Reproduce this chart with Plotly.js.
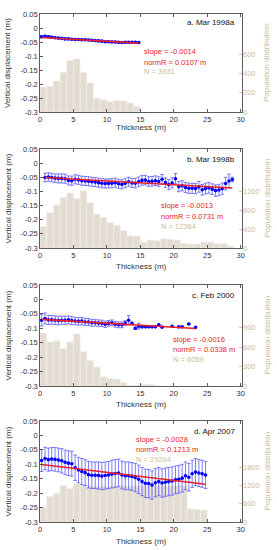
<!DOCTYPE html>
<html><head><meta charset="utf-8">
<script src="https://cdn.plot.ly/plotly-3.0.1.min.js"></script>
<style>html,body{margin:0;padding:0;background:#fff}#chart{width:277px;height:550px}</style>
</head><body><div id="chart"></div><script>
// ---------- text ----------
const panelLabels = ["a. Mar 1998a", "b. Mar 1998b", "c. Feb 2000", "d. Apr 2007"];
const slopeText = ["slope = -0.0014", "slope = -0.0013", "slope = -0.0016", "slope = -0.0028"];
const normRText = ["normR = 0.0107 m", "normR = 0.0731 m", "normR = 0.0338 m", "normR = 0.1213 m"];
const nText = ["N = 3931", "N = 12364", "N = 6059", "N = 29204"];
const xTickVals = [0, 5, 10, 15, 20, 25, 30];
const yTickVals = [-0.3, -0.25, -0.2, -0.15, -0.1, -0.05, 0, 0.05];
const yTickText = ["-0.3", "-0.25", "-0.2", "-0.15", "-0.1", "-0.05", "0", "0.05"];
const popTickVals = [[0, 200, 400, 600], [0, 400, 800, 1200], [0, 300, 600, 900], [0, 600, 1200, 1800]];
const popRanges = [[0, 1020], [0, 2100], [0, 1560], [0, 3330]];

// ---------- panel a ----------
const xA = [0.25,0.75,1.25,1.75,2.25,2.75,3.25,3.75,4.25,4.75,5.25,5.75,6.25,6.75,7.25,7.75,8.25,8.75,9.25,9.75,10.25,10.75,11.25,11.75,12.25,12.75,13.25,13.75,14.25,14.75];
const yA = [-0.031,-0.030,-0.031,-0.033,-0.035,-0.036,-0.037,-0.039,-0.039,-0.040,-0.041,-0.041,-0.042,-0.042,-0.043,-0.044,-0.045,-0.046,-0.047,-0.049,-0.049,-0.050,-0.050,-0.051,-0.052,-0.051,-0.051,-0.051,-0.051,-0.052];
const eA = [0.004,0.004,0.004,0.004,0.003,0.003,0.003,0.003,0.003,0.003,0.003,0.003,0.003,0.003,0.003,0.003,0.003,0.003,0.003,0.003,0.003,0.003,0.003,0.003,0.003,0.003,0.003,0.003,0.003,0.003];
const fitXA = [0.25, 14.75];
const fitYA = [-0.034, -0.054];
const binXA = [0.5,1.5,2.5,3.5,4.5,5.5,6.5,7.5,8.5,9.5,10.5,11.5,12.5,13.5,14.5];
const binA = [260,270,323,413,538,552,413,302,142,128,108,121,115,94,59];

// ---------- panel b ----------
const xB = [0.75,1.25,1.75,2.25,2.75,3.25,3.75,4.25,4.75,5.25,5.75,6.25,6.75,7.25,7.75,8.25,8.75,9.25,9.75,10.25,10.75,11.25,11.75,12.25,12.75,13.25,13.75,14.25,14.75,15.25,15.75,16.25,16.75,17.25,17.75,18.25,18.75,19.25,19.75,20.25,20.75,21.25,21.75,22.25,22.75,23.25,23.75,24.25,24.75,25.25,25.75,26.25,26.75,27.25,27.75,28.25,28.75];
const yB = [-0.051,-0.049,-0.051,-0.053,-0.054,-0.054,-0.055,-0.061,-0.062,-0.057,-0.059,-0.062,-0.063,-0.064,-0.066,-0.067,-0.069,-0.071,-0.072,-0.072,-0.071,-0.069,-0.073,-0.075,-0.071,-0.066,-0.070,-0.071,-0.066,-0.061,-0.060,-0.065,-0.064,-0.062,-0.065,-0.057,-0.069,-0.076,-0.070,-0.055,-0.083,-0.080,-0.086,-0.089,-0.089,-0.090,-0.084,-0.094,-0.090,-0.087,-0.092,-0.097,-0.095,-0.090,-0.072,-0.063,-0.058];
const eB = [0.015,0.015,0.015,0.015,0.016,0.016,0.016,0.016,0.016,0.016,0.016,0.016,0.016,0.016,0.016,0.016,0.016,0.016,0.016,0.016,0.016,0.016,0.016,0.016,0.016,0.016,0.016,0.017,0.017,0.017,0.017,0.017,0.017,0.017,0.017,0.017,0.017,0.018,0.018,0.018,0.018,0.018,0.018,0.018,0.018,0.018,0.019,0.019,0.019,0.019,0.019,0.020,0.020,0.020,0.022,0.024,0.008];
const fitXB = [0.75, 28.75];
const fitYB = [-0.051, -0.088];
const binXB = [0.5,1.5,2.5,3.5,4.5,5.5,6.5,7.5,8.5,9.5,10.5,11.5,12.5,13.5,14.5,15.5,16.5,17.5,18.5,19.5,20.5,21.5,22.5,23.5,24.5,25.5,26.5,27.5,28.5];
const binB = [459,748,915,1070,1165,1050,1214,958,720,645,535,480,372,261,254,127,169,155,198,184,169,99,85,85,127,127,92,99,42];

// ---------- panel c ----------
const xC = [0.25,0.75,1.25,1.75,2.25,2.75,3.25,3.75,4.25,4.75,5.25,5.75,6.25,6.75,7.25,7.75,8.25,8.75,9.25,9.75,10.25,10.75,11.25,11.75,12.25,12.75,13.25,13.75,14.25,14.75,15.25,15.75,16.25,16.75,17.25,17.75,18.25,19.75,20.75,21.25,22.25,23.25];
const yC = [-0.072,-0.066,-0.071,-0.071,-0.072,-0.073,-0.072,-0.072,-0.071,-0.073,-0.075,-0.076,-0.075,-0.078,-0.078,-0.081,-0.081,-0.082,-0.083,-0.086,-0.083,-0.081,-0.086,-0.088,-0.088,-0.082,-0.072,-0.083,-0.100,-0.093,-0.095,-0.095,-0.095,-0.095,-0.095,-0.088,-0.096,-0.093,-0.095,-0.095,-0.085,-0.097];
const eC = [0.020,0.019,0.016,0.015,0.015,0.015,0.014,0.014,0.014,0.014,0.013,0.013,0.013,0.012,0.012,0.012,0.011,0.011,0.011,0.011,0.010,0.010,0.010,0.010,0.010,0.008,0.016,0.004,0.004,0.010,0.003,0,0,0,0,0,0,0,0,0,0,0];
const fitXC = [0.25, 23.25];
const fitYC = [-0.069, -0.101];
const binXC = [0.5,1.5,2.5,3.5,4.5,5.5,6.5,7.5,8.5,9.5,10.5,11.5,12.5,13.5,14.5,15.5,16.5,17.5];
const binC = [818,680,697,579,677,805,532,396,293,141,118,105,56,10,15,26,26,10];

// ---------- panel d ----------
const xD = [0.25,0.75,1.25,1.75,2.25,2.75,3.25,3.75,4.25,4.75,5.25,5.75,6.25,6.75,7.25,7.75,8.25,8.75,9.25,9.75,10.25,10.75,11.25,11.75,12.25,12.75,13.25,13.75,14.25,14.75,15.25,15.75,16.25,16.75,17.25,17.75,18.25,18.75,19.25,19.75,20.25,20.75,21.25,21.75,22.25,22.75,23.25,23.75,24.25,24.75];
const yD = [-0.087,-0.080,-0.084,-0.082,-0.083,-0.085,-0.088,-0.093,-0.096,-0.098,-0.112,-0.120,-0.125,-0.129,-0.136,-0.138,-0.138,-0.139,-0.141,-0.139,-0.137,-0.134,-0.132,-0.130,-0.137,-0.140,-0.140,-0.142,-0.146,-0.152,-0.160,-0.166,-0.167,-0.172,-0.164,-0.160,-0.165,-0.162,-0.160,-0.158,-0.154,-0.152,-0.148,-0.140,-0.145,-0.133,-0.127,-0.130,-0.133,-0.137];
const eD = [0.038,0.039,0.040,0.040,0.041,0.041,0.042,0.042,0.043,0.043,0.044,0.044,0.045,0.045,0.046,0.046,0.046,0.047,0.047,0.047,0.047,0.048,0.048,0.048,0.048,0.048,0.048,0.048,0.049,0.049,0.049,0.049,0.049,0.049,0.049,0.049,0.049,0.049,0.049,0.049,0.048,0.048,0.048,0.048,0.048,0.047,0.047,0.047,0.047,0.047];
const fitXD = [0.25, 24.75];
const fitYD = [-0.101, -0.169];
const binXD = [0.5,1.5,2.5,3.5,4.5,5.5,6.5,7.5,8.5,9.5,10.5,11.5,12.5,13.5,14.5,15.5,16.5,17.5,18.5,19.5,20.5,21.5,22.5,23.5,24.5];
const binD = [480,837,948,1200,1110,1262,1220,1190,1180,1175,1185,1200,1190,1180,1190,1200,1215,1205,1195,1185,1200,1190,435,410,390];

const panels = [
  {x: xA, y: yA, e: eA, fx: fitXA, fy: fitYA, bx: binXA, b: binA},
  {x: xB, y: yB, e: eB, fx: fitXB, fy: fitYB, bx: binXB, b: binB},
  {x: xC, y: yC, e: eC, fx: fitXC, fy: fitYC, bx: binXC, b: binC},
  {x: xD, y: yD, e: eD, fx: fitXD, fy: fitYD, bx: binXD, b: binD}
];

// ---------- style ----------
const W = 277, H = 550;
const FONT = "Liberation Sans, Arial, sans-serif";
const TAN = "#cdbc97";
const RED = "#e8212b";
const BLUE = "#0000ff";
const EBLUE = "#5a5aff";
const BARFILL = "#e3dcd2";
const AXC = "#333333";
const plotLeft = 40, plotRight = 242;
const plotTB = [[14, 112], [149, 248], [285, 386], [421, 522]];
const titleY = [22, 159, 295, 431];
const statsPos = [[143, [52, 62, 72]], [160, [206, 216, 226]], [172, [339, 349, 359]], [135, [439, 449, 459]]];
const xTitleY = [128, 266, 404, 541];

const px = v => v / W;
const py = v => 1 - v / H;

const data = [];
const layout = {
  width: W, height: H,
  margin: {l: 0, r: 0, t: 0, b: 0},
  paper_bgcolor: "#fff", plot_bgcolor: "rgba(0,0,0,0)",
  showlegend: false,
  font: {family: FONT, size: 7.5, color: AXC},
  annotations: []
};

panels.forEach((p, i) => {
  const n = i + 1;
  const xa = "x" + (n === 1 ? "" : n);
  const popAx = 2 * n - 1, dispAx = 2 * n;
  const popName = "y" + (popAx === 1 ? "" : popAx);
  const dispName = "y" + dispAx;
  const [top, bot] = plotTB[i];

  data.push({
    type: "bar", x: p.bx, y: p.b, width: 1,
    xaxis: xa, yaxis: popName,
    marker: {color: BARFILL, line: {color: "#f4f1ec", width: 0.6}},
    hoverinfo: "skip"
  });
  data.push({
    type: "scatter", mode: "markers", x: p.x, y: p.y,
    xaxis: xa, yaxis: dispName,
    marker: {color: BLUE, size: 3.6},
    error_y: {type: "data", array: p.e, visible: true, color: EBLUE, thickness: 0.8, width: 1.8}
  });
  data.push({
    type: "scatter", mode: "lines", x: p.fx, y: p.fy,
    xaxis: xa, yaxis: dispName,
    line: {color: RED, width: 1.6}
  });

  layout["xaxis" + (n === 1 ? "" : n)] = {
    domain: [px(plotLeft), px(plotRight)],
    anchor: popName,
    range: [0, 30.2],
    tickvals: xTickVals,
    ticks: "inside", ticklen: 3, tickcolor: AXC, tickwidth: 0.8,
    showline: true, linecolor: AXC, linewidth: 0.8, mirror: "ticks",
    showgrid: false, zeroline: false,
    tickfont: {family: FONT, size: 7.5, color: AXC}
  };
  layout["yaxis" + (popAx === 1 ? "" : popAx)] = {
    domain: [py(bot), py(top)],
    anchor: xa,
    side: "right",
    range: popRanges[i],
    tickvals: popTickVals[i],
    ticks: "inside", ticklen: 3, tickcolor: TAN, tickwidth: 0.8,
    showline: false, showgrid: false, zeroline: false,
    tickfont: {family: FONT, size: 7.5, color: TAN}
  };
  layout["yaxis" + dispAx] = {
    overlaying: popName,
    anchor: xa,
    side: "left",
    range: [-0.3, 0.05],
    tickvals: yTickVals, ticktext: yTickText,
    ticks: "inside", ticklen: 3, tickcolor: AXC, tickwidth: 0.8,
    showline: true, linecolor: AXC, linewidth: 0.8, mirror: true,
    showgrid: false, zeroline: false,
    tickfont: {family: FONT, size: 7.5, color: AXC}
  };

  const ann = layout.annotations;
  const SF = 7.5;
  ann.push({xref: "paper", yref: "paper", x: px(237), y: py(titleY[i]), xanchor: "right", yanchor: "middle",
    text: panelLabels[i], showarrow: false, font: {family: FONT, size: 8, color: "#111"}});
  const [sx, sy] = statsPos[i];
  ann.push({xref: "paper", yref: "paper", x: px(sx), y: py(sy[0]), xanchor: "left", yanchor: "middle", borderpad: 0,
    text: slopeText[i], showarrow: false, font: {family: FONT, size: SF, color: RED}});
  ann.push({xref: "paper", yref: "paper", x: px(sx), y: py(sy[1]), xanchor: "left", yanchor: "middle", borderpad: 0,
    text: normRText[i], showarrow: false, font: {family: FONT, size: SF, color: RED}});
  ann.push({xref: "paper", yref: "paper", x: px(sx), y: py(sy[2]), xanchor: "left", yanchor: "middle", borderpad: 0,
    text: nText[i], showarrow: false, font: {family: FONT, size: SF, color: TAN}});
  ann.push({xref: "paper", yref: "paper", x: px(141), y: py(xTitleY[i]), xanchor: "center", yanchor: "middle",
    text: "Thickness (m)", showarrow: false, font: {family: FONT, size: 8, color: AXC}});
  const midY = py((top + bot) / 2);
  ann.push({xref: "paper", yref: "paper", x: px(8), y: midY, xanchor: "center", yanchor: "middle", textangle: -90,
    text: "Vertical displacement (m)", showarrow: false, font: {family: FONT, size: 8, color: AXC}});
  ann.push({xref: "paper", yref: "paper", x: px(267), y: midY, xanchor: "center", yanchor: "middle", textangle: -90,
    text: "Population distribution", showarrow: false, font: {family: FONT, size: 8, color: TAN}});
});

Plotly.newPlot("chart", data, layout, {staticPlot: true, displayModeBar: false});
</script></body></html>
